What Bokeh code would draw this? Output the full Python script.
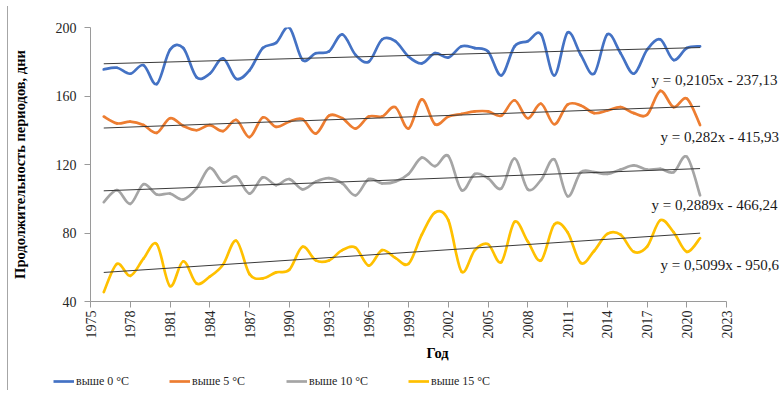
import numpy as np
from math import pi
from bokeh.plotting import figure
from bokeh.layouts import column
from bokeh.models import Legend, LegendItem, Label, FixedTicker
from bokeh.embed import file_html
from bokeh.resources import INLINE

years = list(range(1976, 2022))

above0 = [175.5, 176.5, 173, 178, 167, 187, 188, 171, 173, 182,
          170, 175, 188, 191, 200, 181, 185, 186, 196, 184,
          180, 193, 192, 183, 179, 185, 182.5, 189, 188, 186,
          172, 189, 192, 196, 172, 197, 184, 173, 196, 185,
          173, 187, 193, 181, 188, 189]
above5 = [148, 144, 145, 143, 138.5, 147, 142.5, 140, 143, 139.5,
          146, 136, 147.5, 142, 145, 146.5, 138, 148.5, 147, 141,
          148, 148, 153.5, 141, 158, 143.5, 148, 149.5, 151, 151,
          148.5, 157.5, 147, 155.5, 143.5, 155, 154.5, 150, 151.5, 153.5,
          150, 149, 163, 153.5, 158.5, 143]
above10 = [98, 105, 97, 108.5, 102.5, 103, 99.5, 106, 118, 109.5,
           113, 103, 112.5, 108, 111.5, 105.5, 110, 112, 109, 102,
           111.5, 109, 110, 114.5, 124, 119, 125, 105, 114.5, 112,
           106, 123.5, 105.5, 111, 123, 101.5, 115.5, 115.5, 114.5, 117,
           119.5, 117, 117.5, 115.5, 124.5, 102]
above15 = [45.5, 62, 55, 65, 73.5, 49, 63.5, 50.5, 54.5, 61.5,
           75.5, 56, 53.5, 57, 58.5, 72, 64, 64, 70, 71.5,
           61, 70, 65.5, 62, 79, 92, 87.5, 57.5, 70, 73.5,
           63, 86.5, 75, 64, 85, 80.5, 62.5, 69.5, 79.5, 79,
           69, 72, 87.5, 80.5, 69, 77]

series = [above0, above5, above10, above15]
names = ["выше 0 °C", "выше 5 °C", "выше 10 °C", "выше 15 °C"]
colors = ["#4472C4", "#ED7D31", "#A5A5A5", "#FFC000"]
slopes = [0.2105, 0.282, 0.2889, 0.5099]
intercepts = [-237.13, -415.93, -466.24, -950.6]
eq_texts = ["y = 0,2105x - 237,13", "y = 0,282x - 415,93",
            "y = 0,2889x - 466,24", "y = 0,5099x - 950,6"]
x_ticks = list(range(1975, 2024, 3))
y_ticks = [40, 80, 120, 160, 200]
x_axis_start, x_axis_end = 1975, 2023

FONT = "Liberation Serif"
BORDER = "#a6a6a6"
OX, OY = 8, 7            # chart border offset inside the page
W = 784 - OX
H_MAIN = 365
H_LEG = 18
LEFT, TOP, BOTTOM = 89 - OX, 27 - OY, 301 - OY

# frame spans to the right edge so the equation texts fit; the axis itself stops at 2023
px_per_year = 637 / 48.0
x_view_end = x_axis_end + (W - LEFT - 637) / px_per_year

p = figure(width=W, height=H_MAIN, x_range=(x_axis_start, x_view_end), y_range=(40, 200),
           output_backend="svg", toolbar_location=None,
           min_border_left=LEFT, min_border_right=0,
           min_border_top=TOP, min_border_bottom=H_MAIN - BOTTOM)
p.background_fill_color = "white"
p.border_fill_color = "white"
p.outline_line_color = None
p.xgrid.visible = False
p.ygrid.visible = False

for ax in (p.xaxis[0], p.yaxis[0]):
    ax.axis_line_color = "#9a9a9a"
    ax.major_tick_line_color = "#9a9a9a"
    ax.minor_tick_line_color = None
    ax.major_tick_in = 0
    ax.major_tick_out = 6
    ax.major_label_text_font = FONT
    ax.major_label_text_font_size = "14px"
    ax.major_label_text_color = "#262626"
    ax.axis_label_text_font = FONT
    ax.axis_label_text_font_size = "14.5px"
    ax.axis_label_text_font_style = "bold"
    ax.axis_label_text_color = "#000000"

p.xaxis.bounds = (x_axis_start, x_axis_end)
p.xaxis.ticker = FixedTicker(ticks=x_ticks)
p.xaxis.major_label_orientation = pi / 2
p.xaxis.major_label_standoff = 3
p.xaxis.axis_label = "Год"
p.xaxis.axis_label_standoff = 3
p.yaxis.ticker = FixedTicker(ticks=y_ticks)
p.yaxis.major_label_standoff = 8
p.yaxis.axis_label = "Продолжительность периодов, дни"
p.yaxis.axis_label_standoff = 25

xs = np.array(years, dtype=float)
for vals, col in zip(series, colors):
    ys = np.array(vals, dtype=float)
    x0 = xs[:-1]; y0 = ys[:-1]; x1 = xs[1:]; y1 = ys[1:]
    xp = np.concatenate([[xs[0]], xs[:-2]]); yp = np.concatenate([[ys[0]], ys[:-2]])
    xn = np.concatenate([xs[2:], [xs[-1]]]); yn = np.concatenate([ys[2:], [ys[-1]]])
    cx0 = x0 + (x1 - xp) / 6.0; cy0 = y0 + (y1 - yp) / 6.0
    cx1 = x1 - (xn - x0) / 6.0; cy1 = y1 - (yn - y0) / 6.0
    p.bezier(x0=x0, y0=y0, x1=x1, y1=y1, cx0=cx0, cy0=cy0, cx1=cx1, cy1=cy1,
             line_color=col, line_width=2.7, line_cap="round")

for s, b in zip(slopes, intercepts):
    tx = [years[0], years[-1]]
    p.line(x=tx, y=[s * t + b for t in tx], line_color="#3a3a3a", line_width=1)

eq_pos = [(561, 222), (570, 165), (561, 97), (570, 37)]
for txt, (lx, ly) in zip(eq_texts, eq_pos):
    p.add_layout(Label(x=lx, y=ly, x_units="screen", y_units="screen", text=txt,
                       text_baseline="middle", text_font=FONT, text_font_size="15px",
                       text_color="#1a1a1a"))

# thin strip forming the chart's top border line
top_line = figure(frame_width=W, frame_height=1, x_range=(0, 1), y_range=(0, 1),
                  x_axis_type=None, y_axis_type=None, output_backend="svg",
                  toolbar_location=None, min_border=0)
top_line.outline_line_color = None
top_line.xgrid.visible = False
top_line.ygrid.visible = False
top_line.background_fill_color = BORDER
top_line.border_fill_color = BORDER

# legend strip below the chart (series drawn here lie outside its view; only the legend shows)
lg = figure(frame_width=W, frame_height=H_LEG, x_range=(0, 1), y_range=(0, 1),
            x_axis_type=None, y_axis_type=None, output_backend="svg",
            toolbar_location=None, min_border=0)
lg.outline_line_color = None
lg.xgrid.visible = False
lg.ygrid.visible = False
lg.background_fill_color = "white"
lg.border_fill_color = "white"
legend_x = [53 - OX, 169 - OX, 286 - OX, 408 - OX]
for vals, name, col, lx in zip(series, names, colors, legend_x):
    r = lg.line(x=years, y=vals, line_color=col, line_width=2.7)
    lg.add_layout(Legend(items=[LegendItem(label=name, renderers=[r])], location=(lx, 0),
                         orientation="horizontal", label_text_font=FONT,
                         label_text_font_size="12px", label_text_color="#262626",
                         glyph_width=21, glyph_height=H_LEG, label_standoff=2,
                         padding=0, margin=0, border_line_color=None,
                         background_fill_alpha=0), "center")

layout = column(top_line, p, lg, spacing=0, margin=(OY - 1, 0, 0, OX - 1),
                styles={"border-left": "1px solid " + BORDER})
open("out.html", "w").write(file_html(layout, INLINE))
